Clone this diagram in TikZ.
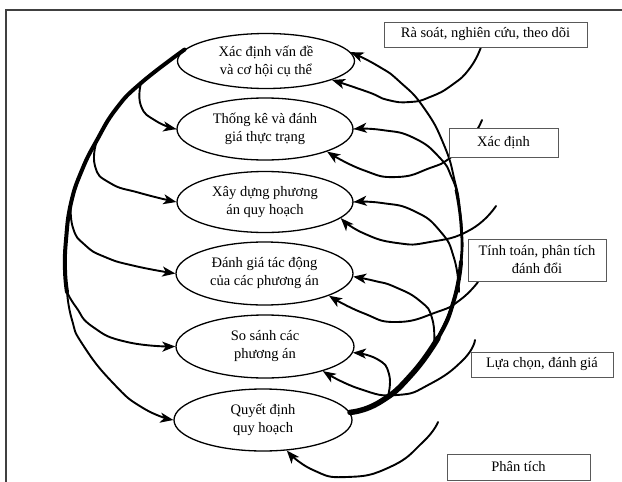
\documentclass[tikz,border=0pt]{standalone}
\usepackage{fontspec}
\setmainfont{Liberation Serif}
\usetikzlibrary{shapes.geometric,arrows.meta}
\begin{document}
\begin{tikzpicture}[x=1pt,y=-1pt,
  stepell/.style={ellipse,draw,line width=1.3pt,inner sep=0pt,align=center,font=\fontsize{14.5}{18}\selectfont},
  labbox/.style={rectangle,draw=black!65,line width=1pt,fill=white,inner sep=0pt,align=center,font=\fontsize{14.5}{18}\selectfont},
  conn/.style={line width=1.9pt,line cap=round},
  arr/.style={conn,-{Stealth[length=13pt,width=10pt,inset=3.5pt]}},
  thickline/.style={line cap=round,line join=round}]
\useasboundingbox (0,0) rectangle (622,482);
\fill[white] (0,0) rectangle (622,482);
% frame
\draw[black!75,line width=1.5pt] (6,482) -- (6,10) -- (622,10);

% ellipses
\node[stepell,minimum width=177pt,minimum height=55pt] (e1) at (266,61) {Xác định vấn đề\\và cơ hội cụ thể};
\node[stepell,minimum width=176pt,minimum height=62pt] (e2) at (265,129) {Thống kê và đánh\\giá thực trạng};
\node[stepell,minimum width=176pt,minimum height=61pt] (e3) at (265,202) {Xây dựng phương\\án quy hoạch};
\node[stepell,minimum width=177pt,minimum height=63pt] (e4) at (264.5,273.5) {Đánh giá tác động\\của các phương án};
\node[stepell,minimum width=178pt,minimum height=63pt] (e5) at (265,346.5) {So sánh các\\phương án};
\node[stepell,minimum width=178pt,minimum height=62pt] (e6) at (263,420) {Quyết định\\quy hoạch};

% left side trunk and branches
\coordinate (l1) at (141,83);
\coordinate (l2) at (97,140);
\coordinate (l3) at (71,203);
\coordinate (l4) at (67,292);
\draw[thickline,line width=4pt] plot[smooth,tension=0.8] coordinates {(e1.172) (l1) (116,109) (l2) (82,170) (l3) (66,240) (65,270) (l4)};
\draw[arr] plot[smooth,tension=0.9] coordinates {(l1) (141,106) (156,121) (e2.west)};
\draw[arr] plot[smooth,tension=0.9] coordinates {(l2) (95,166) (110,183) (140,193) (e3.west)};
\draw[arr] plot[smooth,tension=0.9] coordinates {(l3) (73,228) (85,245) (105,257) (135,266) (e4.west)};
\draw[arr] plot[smooth,tension=0.9] coordinates {(l4) (76,307) (93,327) (127,342) (e5.west)};
\draw[arr] plot[smooth,tension=0.9] coordinates {(l4) (72,320) (83,345) (113,383) (143,408) (e6.west)};

% right side: long line to e1 and thick trunk
\draw[arr] plot[smooth,tension=0.9] coordinates {(436,340) (452,305) (460,270) (462,240) (460,210) (455,182) (444,145) (424,108) (400,82) (378,66) (e1.6)};
\draw[thickline,line width=5.5pt] plot[smooth,tension=0.9] coordinates {(e6.5) (380,402) (412,374) (438,338)};
\draw[thickline,line width=4pt] plot[smooth,tension=0.9] coordinates {(412,374) (438,338) (454,300) (461,262)};
\draw[thickline,line width=2.8pt] plot[smooth,tension=0.9] coordinates {(454,300) (461,262) (461,225) (456,190)};

% upper arrows from trunk
\draw[arr] plot[smooth,tension=0.9] coordinates {(458,196) (452,178) (440,158) (414,138) (382,130) (e2.east)};
\draw[arr] plot[smooth,tension=0.9] coordinates {(459,292) (454,258) (440,231) (414,211) (382,203) (e3.east)};
\draw[arr] plot[smooth,tension=0.9] coordinates {(434,344) (432,318) (420,301) (395,287) (375,281) (e4.-2)};
\draw[arr] plot[smooth,tension=0.9] coordinates {(388,396) (389,374) (377,359) (e5.-4)};

% lower arrows from boxes
\coordinate (s1) at (481,47);
\coordinate (s2) at (482,120);
\coordinate (s3) at (496,206);
\coordinate (s4) at (478,282);
\coordinate (s5) at (475,340);
\coordinate (s6) at (438,422);
\draw[arr] plot[smooth,tension=0.9] coordinates {(s1) (470,68) (452,85) (430,97) (410,102) (388,100) (368,92) (e1.-16)};
\draw[arr] plot[smooth,tension=0.9] coordinates {(s2) (470,140) (450,158) (430,168) (397,177) (363,170) (e2.-20)};
\draw[arr] plot[smooth,tension=0.9] coordinates {(s3) (470,230) (430,242) (397,243) (363,233) (e3.-12)};
\draw[arr] plot[smooth,tension=0.9] coordinates {(s4) (460,300) (437,312) (397,322) (363,313) (e4.-19)};
\draw[arr] plot[smooth,tension=0.9] coordinates {(s5) (463,360) (430,384) (397,395) (360,389) (e5.-23)};
\draw[arr] plot[smooth,tension=0.9] coordinates {(s6) (423,442) (390,467) (347,477) (313,470) (e6.-52)};

% boxes
\node[labbox,minimum width=203pt,minimum height=25pt] (b1) at (485.5,34.5) {Rà soát, nghiên cứu, theo dõi};
\node[labbox,minimum width=109pt,minimum height=29pt] (b2) at (503.5,142.5) {Xác định};
\node[labbox,minimum width=138pt,minimum height=42pt] (b3) at (537,260) {Tính toán, phân tích\\đánh đổi};
\node[labbox,minimum width=142pt,minimum height=25pt] (b4) at (542,364.5) {Lựa chọn, đánh giá};
\node[labbox,minimum width=143pt,minimum height=26pt] (b5) at (518.5,467) {Phân tích};
\end{tikzpicture}
\end{document}
